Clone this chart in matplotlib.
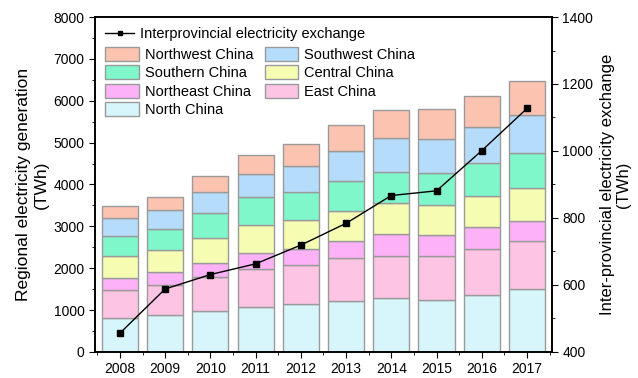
import matplotlib.pyplot as plt
import numpy as np
from matplotlib.ticker import MultipleLocator
from matplotlib.patches import Patch
from matplotlib.lines import Line2D

plt.rcParams['font.family'] = ['Liberation Sans', 'DejaVu Sans']

years = [2008, 2009, 2010, 2011, 2012, 2013, 2014, 2015, 2016, 2017]

# regional generation (TWh), stacked bottom to top
north = [819, 876, 979, 1082, 1139, 1218, 1290, 1249, 1354, 1504]
east = [654, 724, 819, 908, 939, 1027, 1002, 1036, 1106, 1147]
northeast = [294, 303, 320, 374, 374, 398, 526, 509, 518, 470]
central = [525, 533, 612, 669, 693, 731, 733, 724, 755, 788]
southern = [486, 494, 597, 661, 683, 710, 740, 749, 788, 836]
southwest = [414, 468, 501, 557, 614, 723, 812, 812, 860, 908]
northwest = [295, 296, 375, 453, 525, 614, 669, 724, 740, 826]

# inter-provincial exchange (TWh)
exchange = [456, 588, 631, 663, 719, 784, 867, 881, 1001, 1127]

series = [
    ('North China', north, '#d6f6fc'),
    ('East China', east, '#fdc4e4'),
    ('Northeast China', northeast, '#fdb2f7'),
    ('Central China', central, '#f6fdb2'),
    ('Southern China', southern, '#7ff7cb'),
    ('Southwest China', southwest, '#b6dcfb'),
    ('Northwest China', northwest, '#fcc3b1'),
]

fig = plt.figure(figsize=(6.38, 3.78), dpi=100)
ax = fig.add_axes([0.149, 0.069, 0.716, 0.886])

x = np.arange(len(years))
bottom = np.zeros(len(years))
for name, vals, color in series:
    ax.bar(x, vals, bottom=bottom, width=0.8, color=color,
           edgecolor='#9a9a9a', linewidth=1.0, zorder=2)
    bottom += np.array(vals)

ax.set_xlim(-0.55, len(years) - 0.45)
ax.set_ylim(0, 8000)
ax.set_xticks(x)
ax.set_xticklabels([str(y) for y in years])
ax.set_xticks(np.arange(-0.5, len(years), 1.0), minor=True)
ax.yaxis.set_major_locator(MultipleLocator(1000))
ax.yaxis.set_minor_locator(MultipleLocator(500))
ax.tick_params(axis='both', which='both', direction='out', labelsize=10)
ax.tick_params(which='major', length=4)
ax.tick_params(which='minor', length=2.5)
ax.set_ylabel('Regional electricity generation\n(TWh)', fontsize=12.5,
              linespacing=1.3, labelpad=3)

ax2 = ax.twinx()
ax2.plot(x, exchange, color='black', linewidth=1.0, marker='s',
         markersize=4, zorder=5)
ax2.set_ylim(400, 1400)
ax2.yaxis.set_major_locator(MultipleLocator(200))
ax2.yaxis.set_minor_locator(MultipleLocator(100))
ax2.tick_params(axis='y', which='both', direction='out', labelsize=10)
ax2.tick_params(which='major', length=4)
ax2.tick_params(which='minor', length=2.5)
ax2.set_ylabel('Inter-provincial electricity exchange\n(TWh)', fontsize=12,
               linespacing=1.05, labelpad=5)

for a in (ax, ax2):
    for s in a.spines.values():
        s.set_linewidth(1.2)

line_handle = Line2D([], [], color='black', linewidth=1.0, marker='s', markersize=3)
leg1 = ax2.legend([line_handle], ['Interprovincial electricity exchange'],
                  loc='upper left', bbox_to_anchor=(0.0, 1.0), frameon=False,
                  fontsize=10.5, handlelength=2.0, borderaxespad=0.3,
                  handletextpad=0.4)
ax2.add_artist(leg1)

order = ['Northwest China', 'Southern China', 'Northeast China', 'North China',
         'Southwest China', 'Central China', 'East China']
lookup = {name: color for name, _, color in series}
handles = [Patch(facecolor=lookup[n], edgecolor='#9a9a9a', linewidth=1.0) for n in order]
ax2.legend(handles, order, loc='upper left', bbox_to_anchor=(0.0, 0.942),
           ncol=2, frameon=False, fontsize=10.5, handlelength=2.3,
           handleheight=1.1, labelspacing=0.25, columnspacing=0.8,
           handletextpad=0.4, borderaxespad=0.3)

fig.savefig('out.png', dpi=100)
